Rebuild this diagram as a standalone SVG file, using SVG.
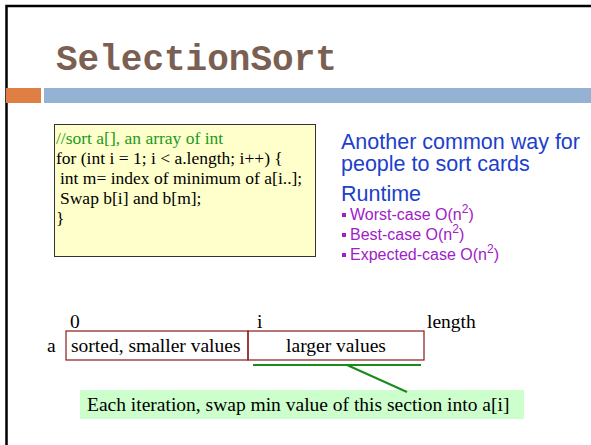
<svg xmlns="http://www.w3.org/2000/svg" width="591" height="445" viewBox="0 0 591 445">
  <style>
    .serif { font-family: "Liberation Serif", "Times New Roman", serif; fill: #000; }
    .code { font-size: 17.5px; }
    .big { font-size: 19.5px; }
    .sans { font-family: "Liberation Sans", Arial, sans-serif; }
    .lead { font-size: 21.5px; fill: #1c3fcc; }
    .bullet { font-size: 16px; fill: #a020c8; }
    .sup { font-size: 12px; }
    .cell { fill: none; stroke: #8b1a1a; stroke-width: 1.2; }
  </style>
  <rect width="591" height="445" fill="#fff"/>
  <!-- slide frame, top and left edges -->
  <path d="M6.5 445 V6 H591" fill="none" stroke="#000" stroke-width="2.5"/>

  <!-- title -->
  <g id="title">
    <text x="56" y="70" font-family="'Liberation Mono', 'Courier New', monospace" font-weight="bold" font-size="36" fill="#7a5f52">SelectionSort</text>
    <rect x="6" y="88" width="35" height="15" fill="#e07f44"/>
    <rect x="44" y="88" width="547" height="15" fill="#94b3d3"/>
  </g>

  <!-- code box -->
  <g id="code">
    <rect x="54.5" y="124.5" width="261" height="132" fill="#ffffcc" stroke="#333" stroke-width="1"/>
    <text class="serif code" x="56" y="144" style="fill:#1a9a1a">//sort a[], an array of int</text>
    <text class="serif code" x="56" y="164">for (int i = 1; i &lt; a.length; i++) {</text>
    <text class="serif code" x="60" y="184">int m= index of minimum of a[i..];</text>
    <text class="serif code" x="60" y="204">Swap b[i] and b[m];</text>
    <text class="serif code" x="56" y="224">}</text>
  </g>

  <!-- notes on the right -->
  <g id="notes" class="sans">
    <text class="lead" x="341" y="149">Another common way for</text>
    <text class="lead" x="341" y="171">people to sort cards</text>
    <text class="lead" x="341" y="201">Runtime</text>
    <rect x="342" y="213" width="4" height="4" fill="#a020c8"/>
    <text class="bullet" x="350" y="220">Worst-case O(n<tspan class="sup" dy="-7">2</tspan><tspan dy="7">)</tspan></text>
    <rect x="342" y="233" width="4" height="4" fill="#a020c8"/>
    <text class="bullet" x="350" y="240">Best-case O(n<tspan class="sup" dy="-7">2</tspan><tspan dy="7">)</tspan></text>
    <rect x="342" y="253" width="4" height="4" fill="#a020c8"/>
    <text class="bullet" x="350" y="260">Expected-case O(n<tspan class="sup" dy="-7">2</tspan><tspan dy="7">)</tspan></text>
  </g>

  <!-- array a with its two sections -->
  <g id="array">
    <text class="serif big" x="70" y="328">0</text>
    <text class="serif big" x="257" y="328">i</text>
    <text class="serif big" x="427" y="328">length</text>
    <text class="serif big" x="47" y="352">a</text>
    <rect class="cell" x="66" y="331" width="182" height="29"/>
    <text class="serif big" x="71" y="352">sorted, smaller values</text>
  </g>
  <g id="larger">
    <rect class="cell" x="248" y="331" width="176" height="29"/>
    <text class="serif big" x="336" y="352" text-anchor="middle">larger values</text>
  </g>

  <!-- note about the unsorted section -->
  <g id="note">
    <rect x="80" y="390" width="444" height="29" fill="#ccffcc"/>
    <text class="serif big" x="87" y="411">Each iteration, swap min value of this section into a[i]</text>
  </g>

  <g id="connectors" stroke="#1a8a1a" stroke-width="2" fill="none">
    <line x1="253" y1="365" x2="421" y2="365"/>
    <line x1="347" y1="365" x2="407" y2="392"/>
  </g>
</svg>
